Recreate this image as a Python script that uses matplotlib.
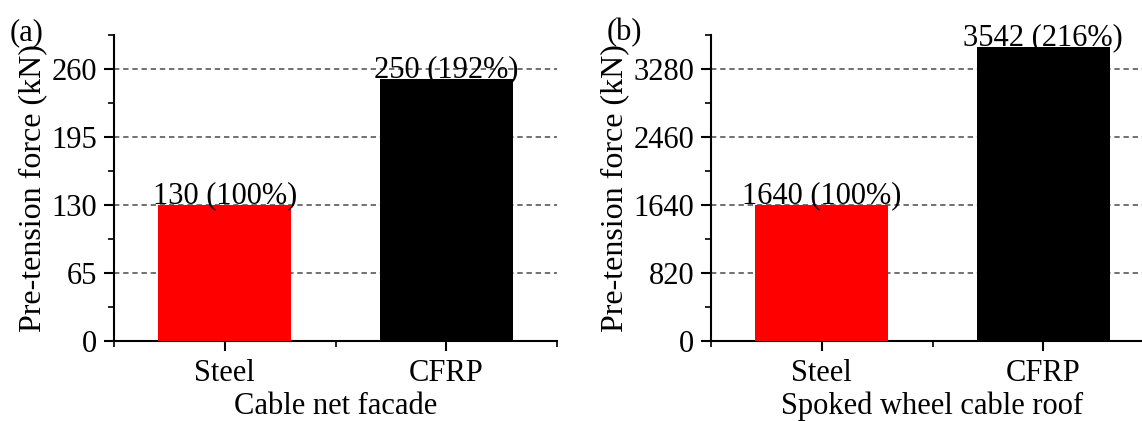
import matplotlib
matplotlib.use('Agg')
import matplotlib.pyplot as plt
from matplotlib.ticker import MultipleLocator

plt.rcParams.update({
    'font.family': ['Liberation Serif', 'DejaVu Serif'],
    'font.size': 22,
    'axes.linewidth': 1.5,
    'axes.spines.top': False,
    'axes.spines.right': False,
})

materials = ['Steel', 'CFRP']
bar_colors = ['#ff0000', '#000000']

facade_force = [130, 250]
facade_pct = [100, 192]
roof_force = [1640, 3542]
roof_pct = [100, 216]

panels = [
    ('(a)', 'Cable net facade', facade_force, facade_pct, 65),
    ('(b)', 'Spoked wheel cable roof', roof_force, roof_pct, 820),
]

fig = plt.figure(figsize=(11.42, 4.21), dpi=100)
# axes boxes in pixels, the right panel runs past the figure edge like the original
lefts = [114 / 1142, 711 / 1142]
W = 443 / 1142
B = (421 - 340.7) / 421
H = (340.7 - 35) / 421

for left, (tag, xlabel, force, pct, step) in zip(lefts, panels):
    ax = fig.add_axes([left, B, W, H])
    x = [1, 2]
    ax.bar(x, force, width=0.6, color=bar_colors, zorder=3)
    for xi, f, p in zip(x, force, pct):
        ax.annotate(f'{f} ({p}%)', (xi, f), xytext=(0, 1.5), textcoords='offset points',
                    ha='center', va='baseline', fontsize=22, zorder=4)

    ax.set_xlim(0.5, 2.5)
    ax.set_ylim(0, step * 4.5)
    ax.set_xticks(x)
    ax.set_xticklabels(materials)
    ax.xaxis.set_minor_locator(MultipleLocator(0.5))
    ax.yaxis.set_major_locator(MultipleLocator(step))
    ax.yaxis.set_minor_locator(MultipleLocator(step / 2))
    ax.tick_params(which='major', direction='out', length=7, width=1.5)
    ax.tick_params(axis='y', which='major', pad=5)
    ax.tick_params(axis='x', which='major', pad=6)
    ax.tick_params(which='minor', direction='out', length=4, width=1.2)

    for yv in range(step, step * 5, step):
        ax.axhline(yv, color='#4a4a4a', lw=1.1, ls=(0, (3.5, 2.5)), zorder=1)

    ax.set_xlabel(xlabel, labelpad=3)
    ax.set_ylabel('Pre-tension force (kN)', fontsize=23, labelpad=3)
    fig.text(left - 104 / 1142, 1 - 33 / 421, tag, ha='left', va='center', fontsize=22)

fig.savefig('out.png', dpi=100)
plt.close()
